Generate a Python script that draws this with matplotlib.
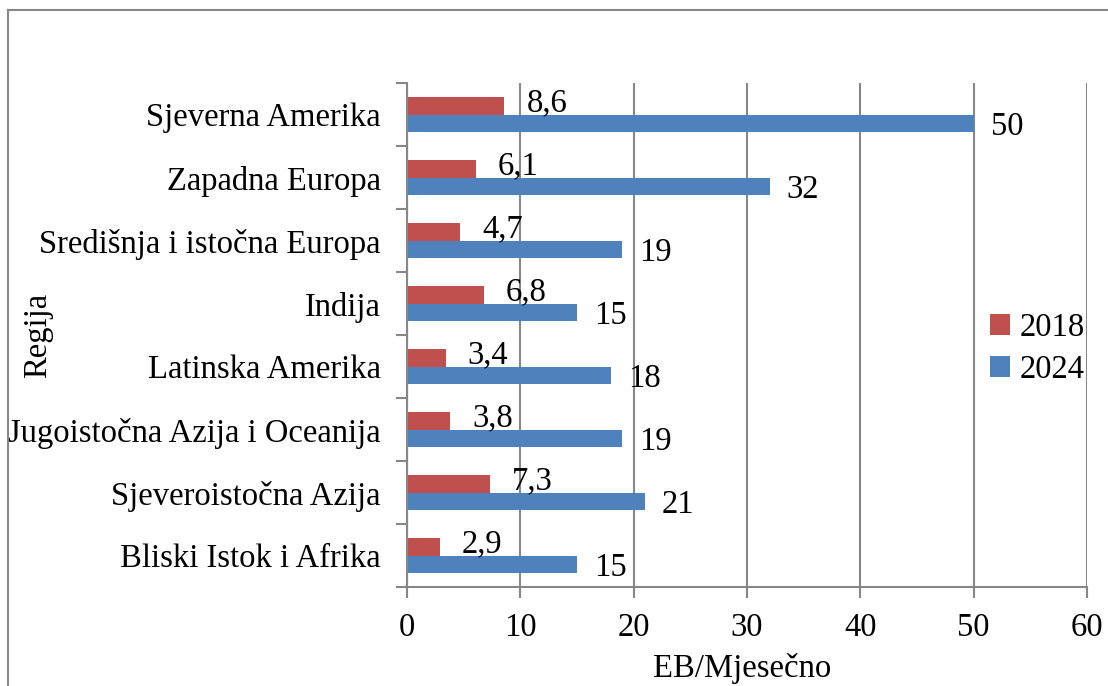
import numpy as np
import matplotlib.pyplot as plt
from matplotlib.lines import Line2D

# Data
regions = ['Sjeverna Amerika', 'Zapadna Europa', 'Središnja i istočna Europa', 'Indija',
           'Latinska Amerika', 'Jugoistočna Azija i Oceanija', 'Sjeveroistočna Azija',
           'Bliski Istok i Afrika']
vals_2018 = [8.6, 6.1, 4.7, 6.8, 3.4, 3.8, 7.3, 2.9]
vals_2024 = [50, 32, 19, 15, 18, 19, 21, 15]
labels_2018 = ['8,6', '6,1', '4,7', '6,8', '3,4', '3,8', '7,3', '2,9']
labels_2024 = ['50', '32', '19', '15', '18', '19', '21', '15']
xticks = [0, 10, 20, 30, 40, 50, 60]

plt.rcParams['font.family'] = ['Liberation Serif', 'DejaVu Serif']
fs = 23.5
grey = '#878787'

fig = plt.figure(figsize=(11.08, 6.86), dpi=100)
ax = fig.add_axes([0.3673, 0.1443, 0.6137, 0.7347])

y = np.arange(len(regions))
h = 0.28
ax.barh(y - h / 2, vals_2018, height=h, color='#C0504D', label='2018')
ax.barh(y + h / 2, vals_2024, height=h, color='#4F81BD', label='2024')

# Value labels
for i in range(len(regions)):
    ax.annotate(labels_2018[i], (vals_2018[i], y[i] - h / 2), xytext=(22, 3),
                textcoords='offset pixels', va='center', ha='left', fontsize=fs)
    ax.annotate(labels_2024[i], (vals_2024[i], y[i] + h / 2), xytext=(17, -3),
                textcoords='offset pixels', va='center', ha='left', fontsize=fs)

ax.set_xlim(0, 60)
ax.set_ylim(len(regions) - 0.5, -0.5)
ax.set_xticks(xticks)
ax.set_yticks(y)
ax.set_yticklabels(regions, fontsize=fs)
ax.set_yticks(np.arange(-0.5, len(regions)), minor=True)
ax.tick_params(axis='y', which='major', length=0, pad=19)
ax.tick_params(axis='y', which='minor', length=8, width=1.5, color=grey, direction='out')
ax.tick_params(axis='x', labelsize=fs, length=8, width=1.5, color=grey, pad=10)

ax.grid(axis='x', color=grey, linewidth=1.5)
ax.set_axisbelow(True)
for s in ['top', 'right']:
    ax.spines[s].set_visible(False)
for s in ['left', 'bottom']:
    ax.spines[s].set_color(grey)
    ax.spines[s].set_linewidth(1.5)

fig.text(742 / 1108, 1 - 669 / 686, 'EB/Mjesečno', fontsize=fs, ha='center', va='center')
fig.text(38 / 1108, 1 - 335 / 686, 'Regija', fontsize=fs, ha='center', va='center',
         rotation=90)

fig.legend(loc='center left', bbox_to_anchor=(977 / 1108, 1 - 349 / 686), frameon=False,
           fontsize=fs, handlelength=0.6, handleheight=0.6, handletextpad=0.3,
           labelspacing=0.35, borderaxespad=0)

# Outer chart frame
fig.add_artist(Line2D([8 / 1108, 8 / 1108], [0, 1 - 10 / 686], color=grey, lw=1.5,
                      transform=fig.transFigure))
fig.add_artist(Line2D([8 / 1108, 1], [1 - 10 / 686, 1 - 10 / 686], color=grey, lw=1.5,
                      transform=fig.transFigure))

fig.savefig('out.png', dpi=100)
